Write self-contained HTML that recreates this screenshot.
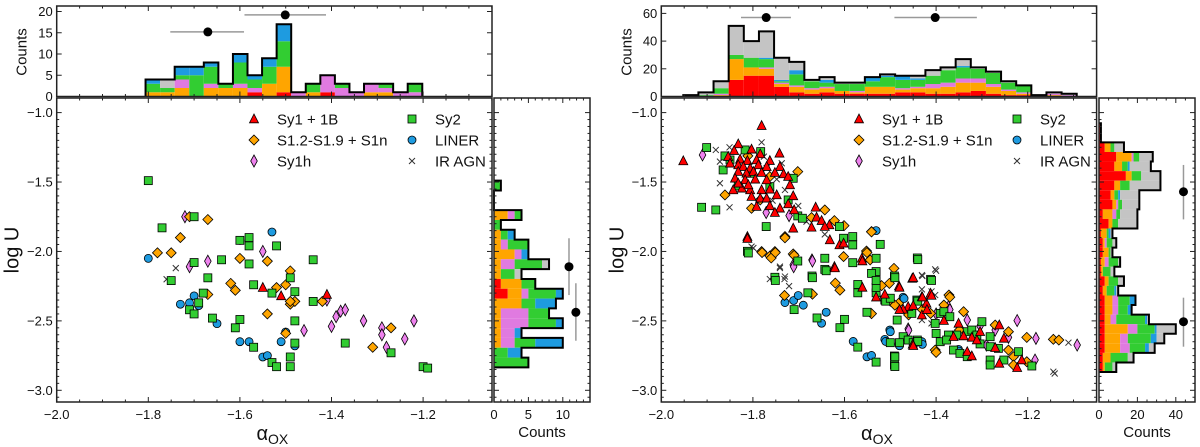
<!DOCTYPE html>
<html><head><meta charset="utf-8"><style>
html,body{margin:0;padding:0;background:#fff;}
svg{display:block;font-family:"Liberation Sans",sans-serif;}
</style></head><body>
<svg id="fig" width="1200" height="447" viewBox="0 0 1200 447"></svg>
<script>
// ---------- DATA ----------
const classes = ['sy1','s12','sy1h','sy2','liner','ir'];
const classLabels = ['Sy1 + 1B','S1.2-S1.9 + S1n','Sy1h','Sy2','LINER','IR AGN'];
const histOrder = ['red','orange','pink','green','blue','gray'];

// Left panel scatter [alphaOX, logU]
const L_sy1 = [[-1.55,-2.26],[-1.51,-2.32],[-1.41,-2.31]];
const L_s12 = [[-1.67,-1.77],[-1.71,-1.75],[-1.73,-1.90],[-1.78,-2.01],[-1.75,-2.01],[-1.67,-2.31],[-1.60,-2.05],[-1.54,-2.07],[-1.62,-2.23],[-1.61,-2.28],[-1.52,-2.26],[-1.50,-2.24],[-1.49,-2.14],[-1.49,-2.38],[-1.48,-2.36],[-1.49,-2.36],[-1.54,-2.45],[-1.50,-2.59],[-1.42,-2.36],[-1.27,-2.55],[-1.31,-2.69]];
const L_sy1h = [[-1.72,-1.75],[-1.67,-2.07],[-1.71,-2.11],[-1.55,-2.00],[-1.46,-2.57],[-1.40,-2.54],[-1.39,-2.47],[-1.38,-2.43],[-1.37,-2.42],[-1.33,-2.50],[-1.29,-2.55],[-1.29,-2.60],[-1.28,-2.69],[-1.24,-2.63],[-1.22,-2.50],[-1.41,-2.35]];
const L_sy2 = [[-1.80,-1.49],[-1.77,-1.83],[-1.70,-1.75],[-1.75,-2.21],[-1.70,-2.08],[-1.67,-2.19],[-1.64,-2.06],[-1.58,-1.90],[-1.58,-1.96],[-1.60,-1.92],[-1.58,-2.09],[-1.52,-1.96],[-1.44,-2.06],[-1.49,-2.19],[-1.57,-2.24],[-1.53,-2.30],[-1.48,-2.29],[-1.44,-2.36],[-1.68,-2.30],[-1.69,-2.37],[-1.71,-2.42],[-1.70,-2.45],[-1.66,-2.48],[-1.60,-2.49],[-1.61,-2.55],[-1.48,-2.50],[-1.48,-2.66],[-1.57,-2.69],[-1.49,-2.76],[-1.53,-2.80],[-1.52,-2.83],[-1.49,-2.83],[-1.37,-2.66],[-1.27,-2.73],[-1.20,-2.83],[-1.19,-2.84]];
const L_liner = [[-1.80,-2.05],[-1.73,-2.38],[-1.71,-2.37],[-1.70,-2.32],[-1.69,-2.39],[-1.65,-2.52],[-1.53,-1.86],[-1.60,-1.92],[-1.60,-2.65],[-1.58,-2.65],[-1.55,-2.76],[-1.54,-2.75],[-1.51,-2.65],[-1.50,-2.58],[-1.48,-2.68]];
const L_ir = [[-1.74,-2.12],[-1.76,-2.20]];

// Right panel scatter
const R_sy1 = [[-1.781,-1.094],[-1.952,-1.348],[-1.832,-1.226],[-1.803,-1.264],[-1.784,-1.298],[-1.742,-1.293],[-1.841,-1.274],[-1.854,-1.317],[-1.828,-1.336],[-1.812,-1.346],[-1.792,-1.341],[-1.763,-1.346],[-1.850,-1.365],[-1.832,-1.377],[-1.821,-1.389],[-1.806,-1.401],[-1.788,-1.377],[-1.770,-1.389],[-1.741,-1.389],[-1.832,-1.425],[-1.814,-1.437],[-1.799,-1.425],[-1.781,-1.432],[-1.752,-1.432],[-1.733,-1.442],[-1.839,-1.473],[-1.817,-1.485],[-1.795,-1.480],[-1.770,-1.485],[-1.723,-1.461],[-1.843,-1.557],[-1.824,-1.545],[-1.806,-1.557],[-1.781,-1.557],[-1.763,-1.552],[-1.748,-1.593],[-1.719,-1.521],[-1.712,-1.600],[-1.803,-1.605],[-1.784,-1.617],[-1.770,-1.617],[-1.763,-1.672],[-1.792,-1.677],[-1.741,-1.689],[-1.723,-1.658],[-1.710,-1.701],[-1.752,-1.720],[-1.663,-1.682],[-1.661,-1.754],[-1.650,-1.778],[-1.633,-1.809],[-1.812,-1.893],[-1.712,-1.833],[-1.672,-1.826],[-1.643,-1.821],[-1.632,-1.917],[-1.611,-1.953],[-1.602,-1.941],[-1.562,-2.049],[-1.622,-2.109],[-1.832,-1.509],[-1.810,-1.521],[-1.452,-2.194],[-1.481,-2.249],[-1.512,-2.309],[-1.431,-2.326],[-1.412,-2.302],[-1.421,-2.374],[-1.461,-2.398],[-1.431,-2.458],[-1.472,-2.417],[-1.383,-2.498],[-1.351,-2.518],[-1.362,-2.614],[-1.340,-2.609],[-1.322,-2.619],[-1.311,-2.638],[-1.304,-2.578],[-1.262,-2.530],[-1.271,-2.693],[-1.252,-2.626],[-1.451,-2.669],[-1.332,-2.722],[-1.322,-2.753],[-1.262,-2.806],[-1.223,-2.837],[-1.213,-2.782],[-1.561,-2.259],[-1.531,-2.329],[-1.480,-2.259],[-1.450,-2.390],[-1.430,-2.329],[-1.410,-2.317],[-1.420,-2.419],[-1.450,-2.679],[-1.480,-2.419],[-1.621,-2.119],[-1.561,-2.069],[-1.450,-2.189],[-1.812,-1.907]];
const R_s12 = [[-1.861,-1.593],[-1.811,-1.312],[-1.702,-1.425],[-1.643,-1.701],[-1.622,-1.778],[-1.601,-1.814],[-1.672,-1.756],[-1.730,-1.893],[-1.781,-2.001],[-1.763,-2.033],[-1.752,-2.001],[-1.712,-2.018],[-1.602,-2.037],[-1.552,-1.997],[-1.541,-1.857],[-1.544,-2.061],[-1.763,-1.461],[-1.784,-1.629],[-1.803,-1.689],[-1.492,-2.122],[-1.502,-2.230],[-1.519,-2.246],[-1.372,-2.314],[-1.340,-2.434],[-1.383,-2.386],[-1.412,-2.446],[-1.482,-2.374],[-1.271,-2.530],[-1.242,-2.578],[-1.202,-2.619],[-1.144,-2.633],[-1.132,-2.638],[-1.402,-2.710],[-1.242,-2.710],[-1.231,-2.758],[-1.231,-2.818],[-1.202,-2.794],[-1.349,-2.566],[-1.731,-2.317],[-1.670,-2.308],[-1.620,-2.228],[-1.610,-2.279],[-1.541,-2.448],[-1.500,-2.358],[-1.490,-2.387],[-1.400,-2.727],[-1.370,-2.329],[-1.460,-2.457],[-1.430,-2.419],[-1.551,-2.008],[-1.541,-1.859],[-1.780,-2.008],[-1.760,-2.047],[-1.751,-2.008],[-1.710,-2.028],[-1.730,-1.902]];
const R_sy1h = [[-1.910,-1.305],[-1.771,-1.720],[-1.721,-1.742],[-1.671,-2.061],[-1.712,-2.097],[-1.332,-2.494],[-1.223,-2.498],[-1.461,-2.558],[-1.373,-2.398],[-1.381,-2.446],[-1.271,-2.566],[-1.242,-2.619],[-1.182,-2.626],[-1.092,-2.674],[-1.290,-2.674],[-1.184,-2.782],[-1.304,-2.537],[-1.460,-2.568],[-1.400,-2.450],[-1.370,-2.419],[-1.711,-2.110],[-1.670,-2.069]];
const R_sy2 = [[-1.901,-1.252],[-1.861,-1.312],[-1.850,-1.341],[-1.783,-1.281],[-1.865,-1.413],[-1.832,-1.528],[-1.712,-1.473],[-1.763,-1.533],[-1.723,-1.629],[-1.912,-1.682],[-1.881,-1.701],[-1.771,-1.821],[-1.702,-1.744],[-1.692,-1.761],[-1.611,-1.821],[-1.602,-1.905],[-1.582,-1.893],[-1.582,-1.953],[-1.522,-1.949],[-1.812,-1.999],[-1.702,-2.069],[-1.643,-2.049],[-1.582,-2.081],[-1.531,-2.049],[-1.643,-2.129],[-1.671,-2.177],[-1.531,-2.145],[-1.752,-2.186],[-1.803,-1.437],[-1.817,-1.269],[-1.441,-2.047],[-1.491,-2.177],[-1.412,-2.201],[-1.442,-2.350],[-1.512,-2.350],[-1.485,-2.494],[-1.453,-2.446],[-1.391,-2.446],[-1.402,-2.518],[-1.383,-2.434],[-1.370,-2.470],[-1.400,-2.590],[-1.355,-2.602],[-1.332,-2.578],[-1.322,-2.566],[-1.300,-2.506],[-1.472,-2.614],[-1.461,-2.638],[-1.441,-2.638],[-1.391,-2.650],[-1.373,-2.602],[-1.362,-2.710],[-1.348,-2.734],[-1.332,-2.758],[-1.304,-2.666],[-1.282,-2.686],[-1.264,-2.698],[-1.220,-2.722],[-1.252,-2.782],[-1.282,-2.782],[-1.282,-2.818],[-1.191,-2.825],[-1.491,-2.753],[-1.491,-2.818],[-1.377,-2.638],[-1.282,-2.614],[-1.311,-2.602],[-1.710,-2.419],[-1.660,-2.479],[-1.600,-2.489],[-1.610,-2.549],[-1.571,-2.689],[-1.531,-2.797],[-1.490,-2.759],[-1.490,-2.829],[-1.500,-2.657],[-1.480,-2.657],[-1.450,-2.657],[-1.440,-2.648],[-1.551,-2.438],[-1.510,-2.358],[-1.531,-2.298],[-1.500,-2.337],[-1.571,-2.298],[-1.531,-2.259],[-1.571,-2.238],[-1.541,-2.158],[-1.490,-2.189],[-1.531,-2.209],[-1.440,-2.358],[-1.670,-2.189],[-1.640,-2.139],[-1.680,-2.298],[-1.751,-2.209],[-1.810,-2.011],[-1.440,-2.059],[-1.410,-2.209]];
const R_liner = [[-1.531,-1.850],[-1.472,-2.330],[-1.501,-2.566],[-1.512,-2.633],[-1.481,-2.667],[-1.431,-2.650],[-1.351,-2.705],[-1.730,-2.368],[-1.711,-2.353],[-1.701,-2.317],[-1.690,-2.387],[-1.640,-2.438],[-1.650,-2.517],[-1.581,-2.648],[-1.551,-2.759],[-1.541,-2.749],[-1.510,-2.648],[-1.500,-2.578],[-1.480,-2.679],[-1.430,-2.669],[-1.350,-2.718],[-1.470,-2.339]];
const R_ir = [[-1.881,-1.269],[-1.851,-1.250],[-1.781,-1.214],[-1.872,-1.353],[-1.872,-1.509],[-1.851,-1.682],[-1.737,-1.365],[-1.770,-1.401],[-1.730,-1.557],[-1.701,-1.672],[-1.643,-1.877],[-1.741,-2.109],[-1.730,-2.181],[-1.803,-1.965],[-1.757,-1.634],[-1.683,-1.785],[-1.776,-1.317],[-1.748,-1.480],[-1.431,-2.170],[-1.402,-2.129],[-1.431,-2.273],[-1.402,-2.314],[-1.144,-2.866],[-1.111,-2.657],[-1.410,-2.518],[-1.431,-2.494],[-1.763,-2.199],[-1.731,-2.199],[-1.721,-2.250],[-1.741,-2.119],[-1.430,-2.177],[-1.400,-2.139],[-1.410,-2.288],[-1.141,-2.879],[-1.799,-1.975]];

// Left top histogram (alphaOX bins)
const LT_start = -1.806, LT_width = 0.0318;
const LT_red    = [0,0,0,0,0,0,0,1,0,1,0,0,1,0,0,0,0,0,0];
const LT_orange = [1,1,2,0,2,2,2,0,3,6,0,1,0,0,0,1,1,0,0];
const LT_pink   = [0,0,2,0,1,0,1,1,0,0,1,0,4,2,1,2,1,1,1];
const LT_green  = [2,1,1,5,4,1,5,2,4,6,0,2,0,1,0,0,1,0,2];
const LT_blue   = [1,0,2,2,1,0,2,1,2,4,0,0,0,0,0,0,0,0,0];
const LT_gray   = [0,2,0,0,0,0,0,0,0,0,0,0,0,0,0,0,0,0,0];
// Left side histogram (logU bins, descending from top)
const LS_start = -1.49, LS_width = 0.0708;
const LS_red    = [0,0,0,0,0,0,0,0,0,0,1,2,0,0,0,0,0,0,0];
const LS_orange = [0,0,0,2,0,1,1,3,1,1,3,2,4,1,1,1,1,0,0];
const LS_pink   = [0,0,0,1,0,0,1,1,2,0,0,1,0,4,4,2,2,0,0];
const LS_green  = [1,0,0,1,1,1,3,0,4,2,2,4,2,3,4,0,3,2,5];
const LS_blue   = [0,0,0,0,0,1,0,1,0,0,0,1,3,0,1,1,4,2,0];
const LS_gray   = [0,0,0,0,0,0,0,0,1,1,0,0,0,0,0,0,0,0,0];
// Right top histogram
const RT_start = -1.952, RT_width = 0.03304;
const RT_red    = [0,0,0,12,15,15,7,3,2,3,2,2,2,2,3,3,2,2,3,4,2,1,1,0,0,0];
const RT_orange = [0,0,1,15,6,5,2,4,3,3,2,1,5,5,2,3,4,5,7,6,5,3,1,0,1,0];
const RT_pink   = [0,0,1,0,0,1,1,1,1,1,0,1,0,0,1,1,3,3,3,3,2,1,1,1,1,1];
const RT_green  = [0,1,4,3,7,6,1,8,5,3,5,5,4,7,6,5,6,9,8,7,8,5,5,0,0,0];
const RT_blue   = [0,0,0,0,0,1,1,3,0,2,0,0,3,1,3,1,0,0,1,0,0,0,0,0,0,0];
const RT_gray   = [1,2,5,21,12,19,16,6,1,2,1,1,0,1,0,2,4,2,5,1,1,1,0,0,1,1];
// Right side histogram
const RS_start = -1.077, RS_width = 0.0689;
const RS_red    = [1,1,3,9,8,14,8,6,7,2,5,1,2,2,1,1,3,2,3,3,3,3,3,3,2,2];
const RS_orange = [0,0,3,8,4,3,3,2,2,5,2,3,1,3,2,1,2,2,4,4,3,12,8,8,4,1];
const RS_pink   = [0,0,0,1,0,0,0,0,1,2,0,0,1,0,2,0,0,0,3,3,3,5,4,5,0,0];
const RS_green  = [0,0,2,3,3,5,5,2,2,2,3,1,3,1,5,4,5,4,6,5,15,9,12,8,9,4];
const RS_blue   = [0,0,0,0,1,0,0,1,0,0,0,1,0,0,0,0,0,1,3,2,1,1,3,2,0,0];
const RS_gray   = [0,0,5,7,11,10,16,10,9,9,10,1,2,1,1,2,3,1,0,0,1,10,4,3,3,2];

// Median/error markers
const LT_err = [[-1.670,15.2,-1.752,-1.591],[-1.501,19.2,-1.590,-1.412]];
const LS_err = [[10.9,-2.110,-1.905,-2.314],[11.9,-2.438,-2.229,-2.643]];
const RT_err = [[-1.771,57,-1.826,-1.717],[-1.402,57,-1.491,-1.311]];
const RS_err = [[44,-1.570,-1.377,-1.769],[44,-2.506,-2.333,-2.686]];

const xTicks = [-2.0,-1.8,-1.6,-1.4,-1.2];
const yTicks = [-1.0,-1.5,-2.0,-2.5,-3.0];
const LT_ticks = [0,5,10,15,20];
const LS_ticks = [0,5,10];
const RT_ticks = [0,20,40,60];
const RS_ticks = [0,20,40];

// ---------- DRAWING ----------
const NS='http://www.w3.org/2000/svg';
const svg=document.getElementById('fig');
const COL={red:'#ff0000',orange:'#ffa500',pink:'#e07ae0',green:'#32cd32',blue:'#1e9be0',gray:'#c4c4c4'};
function mk(tag,attrs,parent){const e=document.createElementNS(NS,tag);for(const k in attrs)e.setAttribute(k,attrs[k]);(parent||svg).appendChild(e);return e;}
function fmt(v){return (v<0?'\u2212':'')+Math.abs(v).toFixed(1);}

function panel(P){
  const g=mk('g',{});
  
  
  const xS=a=>P.mx0+(a+2.0)*458;
  const yS=u=>112.6-(u+1.0)*138.85;
  const mx1=P.mx1, my0=98, my1=402, ty0=6, ty1=96.5;
  const tBase=96.5;
  const tS=c=>tBase-c*P.tppc;
  const sS=c=>P.sx0+c*P.sppc;

  // ---- top histogram ----
  const tg=mk('g',{},g);
  
  
  const TL=P.top;
  const nT=TL.red.length;
  for(let i=0;i<nT;i++){
    let acc=0;
    const xa=xS(P.tStart+i*P.tWidth), xb=xS(P.tStart+(i+1)*P.tWidth);
    histOrder.forEach(c=>{
      const v=TL[c][i]; if(!v) return;
      const r=mk('rect',{x:xa,y:tS(acc+v),width:xb-xa,height:tS(acc)-tS(acc+v),fill:COL[c]},tg);
      
      
      acc+=v;
    });
  }
  let d='M'+xS(P.tStart)+','+tBase;
  for(let i=0;i<nT;i++){
    let tot=0;histOrder.forEach(c=>tot+=TL[c][i]);
    d+=' L'+xS(P.tStart+i*P.tWidth)+','+tS(tot)+' L'+xS(P.tStart+(i+1)*P.tWidth)+','+tS(tot);
  }
  d+=' L'+xS(P.tStart+nT*P.tWidth)+','+tBase;
  const to=mk('path',{d:d,fill:'none',stroke:'#000','stroke-width':2,'stroke-linejoin':'miter'},tg);
  
  
  // top err
  P.tErr.forEach(e=>{
    const l=mk('line',{x1:xS(e[2]),x2:xS(e[3]),y1:tS(e[1]),y2:tS(e[1]),stroke:'#999','stroke-width':1.5},tg);
    
    
    const c=mk('circle',{cx:xS(e[0]),cy:tS(e[1]),r:4.5,fill:'#000'},tg);
    
    
  });
  // top frame
  const tf=mk('rect',{x:P.mx0,y:ty0,width:mx1-P.mx0,height:ty1-ty0,fill:'none',stroke:'#222','stroke-width':1.5},tg);
  
  
  for(let a=-2.0;a<=-1.04;a+=0.05){
    const major=Math.abs(Math.round(a*5)-a*5)<1e-6;
    const L=major?5:2.5;
    mk('line',{x1:xS(a),x2:xS(a),y1:ty1,y2:ty1-L,stroke:'#222','stroke-width':1},tg);
    mk('line',{x1:xS(a),x2:xS(a),y1:ty0,y2:ty0+L,stroke:'#222','stroke-width':1},tg);
  }
  P.tTicks.forEach(c=>{
    mk('line',{x1:P.mx0,x2:P.mx0+5,y1:tS(c),y2:tS(c),stroke:'#222'},tg);
    mk('line',{x1:mx1,x2:mx1-5,y1:tS(c),y2:tS(c),stroke:'#222'},tg);
    const t=mk('text',{x:P.mx0-4,y:tS(c)+4.5,'font-size':13,'text-anchor':'end',fill:'#111'},tg);
    t.textContent=c;
    
    
  });
  const tyl=mk('text',{x:0,y:0,'font-size':15,'text-anchor':'middle',fill:'#111',transform:'translate('+(P.mx0-30)+',52) rotate(-90)'},tg);
  tyl.textContent='Counts';
  
  

  // ---- side histogram ----
  const sg=mk('g',{},g);
  
  
  const SL=P.side;
  const nS=SL.red.length;
  for(let i=0;i<nS;i++){
    let acc=0;
    const ya=yS(P.sStart-i*P.sWidth), yb=yS(P.sStart-(i+1)*P.sWidth);
    histOrder.forEach(c=>{
      const v=SL[c][i]; if(!v) return;
      const r=mk('rect',{x:sS(acc),y:ya,width:sS(acc+v)-sS(acc),height:yb-ya,fill:COL[c]},sg);
      
      
      acc+=v;
    });
  }
  let d2='M'+P.sx0+','+yS(P.sStart);
  for(let i=0;i<nS;i++){
    let tot=0;histOrder.forEach(c=>tot+=SL[c][i]);
    d2+=' L'+sS(tot)+','+yS(P.sStart-i*P.sWidth)+' L'+sS(tot)+','+yS(P.sStart-(i+1)*P.sWidth);
  }
  d2+=' L'+P.sx0+','+yS(P.sStart-nS*P.sWidth);
  const so=mk('path',{d:d2,fill:'none',stroke:'#000','stroke-width':2},sg);
  
  
  P.sErr.forEach(e=>{
    const l=mk('line',{x1:sS(e[0]),x2:sS(e[0]),y1:yS(e[2]),y2:yS(e[3]),stroke:'#999','stroke-width':1.5},sg);
    
    
    const c=mk('circle',{cx:sS(e[0]),cy:yS(e[1]),r:4.5,fill:'#000'},sg);
    
    
  });
  const sf=mk('rect',{x:P.sx0,y:my0,width:P.sx1-P.sx0,height:my1-my0,fill:'none',stroke:'#222','stroke-width':1.5},sg);
  
  
  for(let c=0;sS(c)<P.sx1-1;c+=P.sMinor){
    const major=P.sTicks.includes(c);
    const L=major?5:2.5;
    mk('line',{x1:sS(c),x2:sS(c),y1:my1,y2:my1-L,stroke:'#222'},sg);
    mk('line',{x1:sS(c),x2:sS(c),y1:my0,y2:my0+L,stroke:'#222'},sg);
  }
  P.sTicks.forEach(c=>{
    const t=mk('text',{x:sS(c),y:my1+17,'font-size':13,'text-anchor':'middle',fill:'#111'},sg);
    t.textContent=c;
    
    
  });
  for(let u=-1.0;u>=-3.05;u-=0.05){
    const major=Math.abs(Math.round(u*2)-u*2)<1e-6;
    const L=major?5:2.5;
    mk('line',{x1:P.sx0,x2:P.sx0+L,y1:yS(u),y2:yS(u),stroke:'#222'},sg);
    mk('line',{x1:P.sx1,x2:P.sx1-L,y1:yS(u),y2:yS(u),stroke:'#222'},sg);
  }
  const sxl=mk('text',{x:(P.sx0+P.sx1)/2,y:437,'font-size':15,'text-anchor':'middle',fill:'#111'},sg);
  sxl.textContent='Counts';
  
  

  // ---- main scatter ----
  const mg=mk('g',{},g);
  
  
  const cp='clip'+P.name;
  const defs=mk('defs',{},mg);
  const clip=mk('clipPath',{id:cp},defs);
  mk('rect',{x:P.mx0,y:my0,width:mx1-P.mx0,height:my1-my0},clip);
  const pts=mk('g',{'clip-path':'url(#'+cp+')'},mg);
  function marker(cls,x,y,parent){
    let e;
    if(cls==='sy1') e=mk('polygon',{points:(x-4.5)+','+(y+3.8)+' '+(x+4.5)+','+(y+3.8)+' '+x+','+(y-5),fill:COL.red,stroke:'#000','stroke-width':0.8},parent);
    else if(cls==='s12') e=mk('polygon',{points:x+','+(y-5)+' '+(x+5)+','+y+' '+x+','+(y+5)+' '+(x-5)+','+y,fill:COL.orange,stroke:'#000','stroke-width':0.8},parent);
    else if(cls==='sy1h') e=mk('polygon',{points:x+','+(y-6)+' '+(x+3.3)+','+y+' '+x+','+(y+6)+' '+(x-3.3)+','+y,fill:'#ee82ee',stroke:'#000','stroke-width':0.8},parent);
    else if(cls==='sy2') e=mk('rect',{x:x-4,y:y-4,width:8,height:8,fill:COL.green,stroke:'#000','stroke-width':0.8},parent);
    else if(cls==='liner') e=mk('circle',{cx:x,cy:y,r:4,fill:COL.blue,stroke:'#000','stroke-width':0.8},parent);
    else e=mk('path',{d:'M'+(x-3)+','+(y-3)+'L'+(x+3)+','+(y+3)+'M'+(x-3)+','+(y+3)+'L'+(x+3)+','+(y-3),stroke:'#333','stroke-width':1},parent);
    return e;
  }
  const order=['ir','sy1h','liner','s12','sy2','sy1'];
  order.forEach(cls=>{
    P.scatter[cls].forEach(p=>{
      const e=marker(cls,xS(p[0]),yS(p[1]),pts);
      
      
    });
  });
  const mf=mk('rect',{x:P.mx0,y:my0,width:mx1-P.mx0,height:my1-my0,fill:'none',stroke:'#222','stroke-width':1.5},mg);
  
  
  for(let a=-2.0;a<=-1.04;a+=0.05){
    const major=Math.abs(Math.round(a*5)-a*5)<1e-6;
    const L=major?5:2.5;
    mk('line',{x1:xS(a),x2:xS(a),y1:my1,y2:my1-L,stroke:'#222'},mg);
    mk('line',{x1:xS(a),x2:xS(a),y1:my0,y2:my0+L,stroke:'#222'},mg);
  }
  for(let u=-1.0;u>=-3.05;u-=0.05){
    const major=Math.abs(Math.round(u*2)-u*2)<1e-6;
    const L=major?5:2.5;
    mk('line',{x1:P.mx0,x2:P.mx0+L,y1:yS(u),y2:yS(u),stroke:'#222'},mg);
    mk('line',{x1:mx1,x2:mx1-L,y1:yS(u),y2:yS(u),stroke:'#222'},mg);
  }
  xTicks.forEach(a=>{
    const t=mk('text',{x:xS(a),y:my1+17,'font-size':13,'text-anchor':'middle',fill:'#111'},mg);
    t.textContent=fmt(a);
    
    
  });
  yTicks.forEach(u=>{
    const t=mk('text',{x:P.mx0-4,y:yS(u)+4.5,'font-size':13,'text-anchor':'end',fill:'#111'},mg);
    t.textContent=fmt(u);
    
    
  });
  const xl=mk('text',{x:(P.mx0+mx1)/2-2,y:440,'font-size':20,'text-anchor':'middle',fill:'#111'},mg);
  xl.textContent='\u03b1';
  const sub=mk('tspan',{'font-size':14,dy:4},xl);
  sub.textContent='OX';
  
  
  const yl=mk('text',{x:0,y:0,'font-size':20,'text-anchor':'middle',fill:'#111',transform:'translate('+(P.mx0-38)+',250) rotate(-90)'},mg);
  yl.textContent='log U';
  
  

  // legend
  const lg=mk('g',{},mg);
  
  
  const legPos=[[0,0],[0,1],[0,2],[1,0],[1,1],[1,2]];
  classes.forEach((cls,i)=>{
    const col=legPos[i][0], row=legPos[i][1];
    const mx=col?P.legX2:P.legX1, ty=119+row*21;
    const eg=mk('g',{},lg);
    
    
    marker(cls,mx,ty,eg);
    const t=mk('text',{x:mx+23,y:ty+5.5,'font-size':15,fill:'#111'},eg);
    t.textContent=classLabels[i];
  });
}

panel({name:'left-panel',mx0:56.7,mx1:492,sx0:494,sx1:590,tppc:4.25,sppc:6.88,sMinor:1,
  tStart:LT_start,tWidth:LT_width,sStart:LS_start,sWidth:LS_width,
  top:{red:LT_red,orange:LT_orange,pink:LT_pink,green:LT_green,blue:LT_blue,gray:LT_gray},
  side:{red:LS_red,orange:LS_orange,pink:LS_pink,green:LS_green,blue:LS_blue,gray:LS_gray},
  tErr:LT_err,sErr:LS_err,tTicks:LT_ticks,sTicks:LS_ticks,legX1:254,legX2:412,
  scatter:{sy1:L_sy1,s12:L_s12,sy1h:L_sy1h,sy2:L_sy2,liner:L_liner,ir:L_ir}});
panel({name:'right-panel',mx0:661.3,mx1:1096.6,sx0:1099,sx1:1195,tppc:1.385,sppc:1.92,sMinor:5,
  tStart:RT_start,tWidth:RT_width,sStart:RS_start,sWidth:RS_width,
  top:{red:RT_red,orange:RT_orange,pink:RT_pink,green:RT_green,blue:RT_blue,gray:RT_gray},
  side:{red:RS_red,orange:RS_orange,pink:RS_pink,green:RS_green,blue:RS_blue,gray:RS_gray},
  tErr:RT_err,sErr:RS_err,tTicks:RT_ticks,sTicks:RS_ticks,legX1:859,legX2:1017,
  scatter:{sy1:R_sy1,s12:R_s12,sy1h:R_sy1h,sy2:R_sy2,liner:R_liner,ir:R_ir}});
</script>
</body></html>
